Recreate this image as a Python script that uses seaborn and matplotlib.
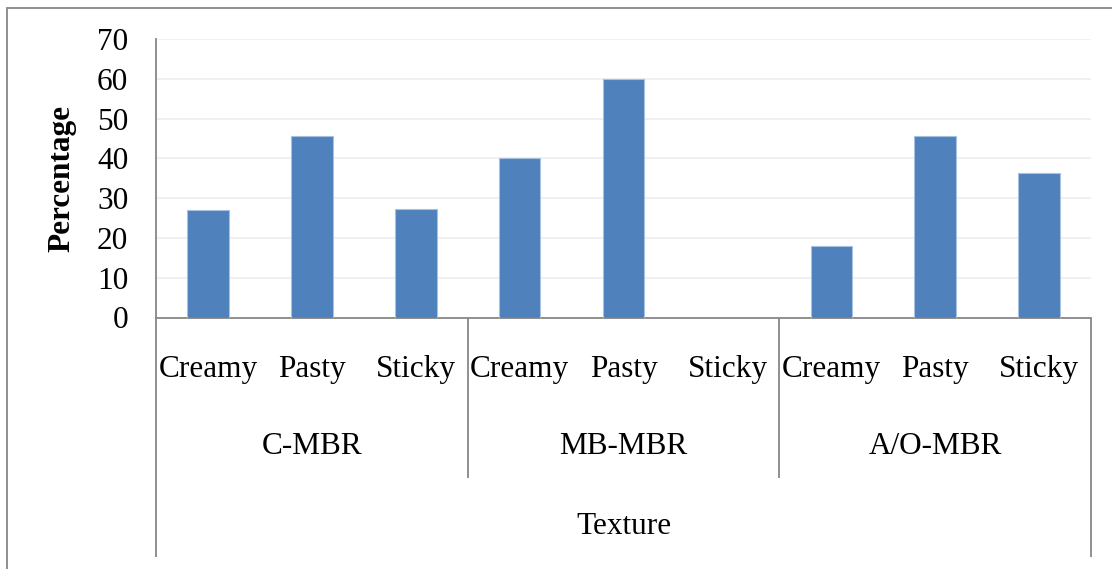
import matplotlib
matplotlib.use("Agg")
import matplotlib.pyplot as plt
import matplotlib.transforms as mtransforms
from matplotlib.patches import Rectangle
import seaborn as sns
import pandas as pd

# Texture shares (%) per reactor type
groups = ["C-MBR", "MB-MBR", "A/O-MBR"]
textures = ["Creamy", "Pasty", "Sticky"]
c_mbr = [27.0, 45.5, 27.3]
mb_mbr = [40.0, 60.0, 0.0]
ao_mbr = [18.0, 45.5, 36.3]
y_ticks = [0, 10, 20, 30, 40, 50, 60, 70]
y_label = "Percentage"
x_title = "Texture"

rows = []
for g, vals in zip(groups, [c_mbr, mb_mbr, ao_mbr]):
    for t, v in zip(textures, vals):
        rows.append({"key": f"{g}|{t}", "group": g, "texture": t, "value": v})
df = pd.DataFrame(rows)
order = list(df["key"])

sns.set_style("white")
plt.rcParams["font.family"] = ["Liberation Serif", "DejaVu Serif"]
plt.rcParams["text.color"] = "black"
plt.rcParams["axes.labelcolor"] = "black"
plt.rcParams["ytick.color"] = "black"

W, H = 1112, 569
fig = plt.figure(figsize=(W / 100, H / 100), dpi=100)
ax_left, ax_right, ax_top, ax_bottom = 156, 1091, 39, 317.5
ax = fig.add_axes([ax_left / W, (H - ax_bottom) / H,
                   (ax_right - ax_left) / W, (ax_bottom - ax_top) / H])

sns.barplot(data=df, x="key", y="value", order=order, color="#4F81BD",
            saturation=1, width=0.4, edgecolor="#A9C1E0", linewidth=0.8,
            errorbar=None, ax=ax, zorder=3)

grey = "#878787"
ax.set_ylim(0, 70)
ax.set_xlim(-0.5, len(order) - 0.5)
ax.set_yticks(y_ticks)
ax.set_yticklabels([str(v) for v in y_ticks], fontsize=22.5, color="black")
ax.tick_params(axis="y", length=0, pad=20)
ax.set_xticks([])
ax.set_xlabel("")
ax.set_ylabel(y_label, fontsize=22.5, fontweight="bold", labelpad=15,
              color="black")
ax.yaxis.grid(True, color="#EFEFEF", linewidth=1.3, zorder=0)
ax.set_axisbelow(True)
for s in ["top", "right"]:
    ax.spines[s].set_visible(False)
for s in ["left", "bottom"]:
    ax.spines[s].set_color(grey)
    ax.spines[s].set_linewidth(1.3)

# Multi-level category axis: x in data units, y in axes fraction
trans = mtransforms.blended_transform_factory(ax.transData, ax.transAxes)
ax_h = ax_bottom - ax_top


def frac(py):
    return (ax_bottom - py) / ax_h


n_t = len(textures)
for i, key in enumerate(order):
    ax.text(i, frac(369), df.loc[i, "texture"], transform=trans,
            ha="center", va="center", fontsize=22.5, color="black")
for gi, g in enumerate(groups):
    ax.text(gi * n_t + (n_t - 1) / 2, frac(447), g, transform=trans,
            ha="center", va="center", fontsize=22.5, color="black")
ax.text((len(order) - 1) / 2, frac(527), x_title, transform=trans,
        ha="center", va="center", fontsize=22.5, color="black")

bounds = [gi * n_t - 0.5 for gi in range(len(groups) + 1)]
for bi, b in enumerate(bounds):
    end = 557 if bi in (0, len(bounds) - 1) else 478
    ax.plot([b, b], [0, frac(end)], transform=trans, color=grey,
            linewidth=1.3, clip_on=False, solid_capstyle="butt")

# Chart area frame
fig.add_artist(Rectangle((7 / W, -0.2), 1.2, 1.2 - 7.5 / H,
                         transform=fig.transFigure, fill=False,
                         edgecolor=grey, linewidth=1.3, clip_on=False))

fig.savefig("out.png", dpi=100)
